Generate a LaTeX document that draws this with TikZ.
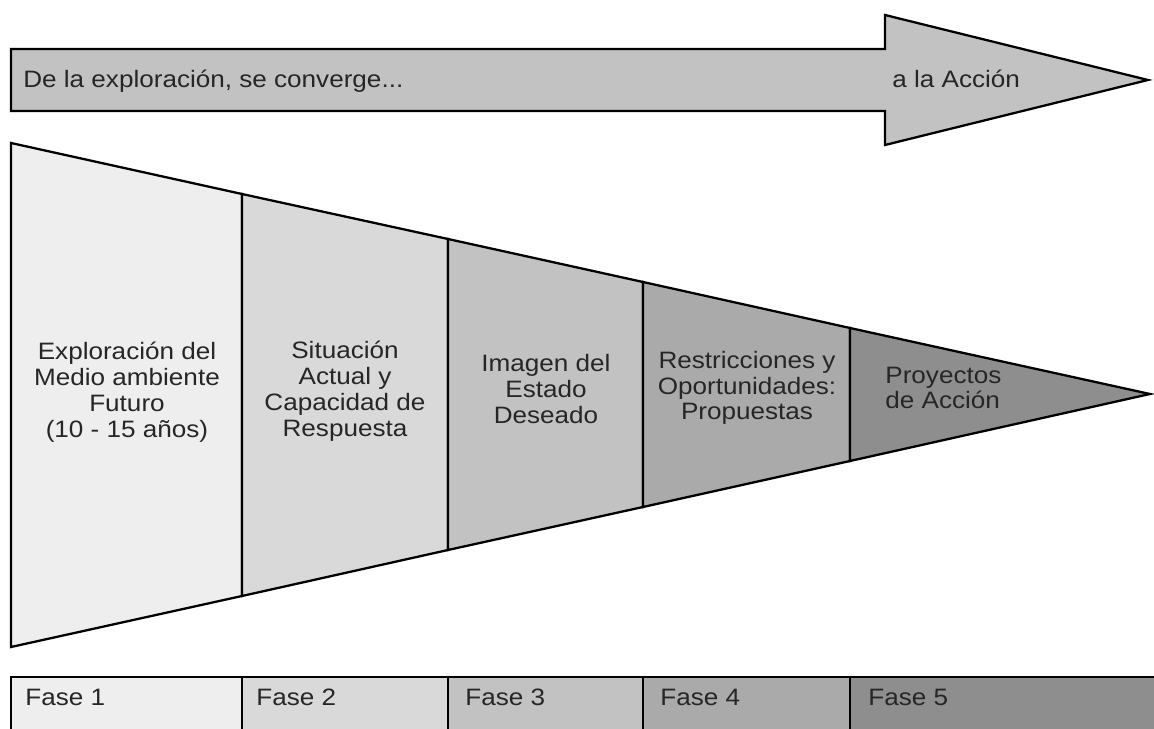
\documentclass[tikz,border=0pt]{standalone}
\usepackage{fontspec}
\setmainfont[FakeStretch=1.1]{Liberation Sans}
\definecolor{c1}{HTML}{EEEEEE}
\definecolor{c2}{HTML}{D9D9D9}
\definecolor{c3}{HTML}{C2C2C2}
\definecolor{c4}{HTML}{AAAAAA}
\definecolor{c5}{HTML}{8E8E8E}
\definecolor{txt}{HTML}{262626}

\begin{document}
\begin{tikzpicture}[
    x=0.02cm, y=-0.02cm,
    font=\fontsize{13.5}{14.7}\selectfont,
    p/.style={
        draw=black, line width=1.3pt, line join=miter
    },
    t/.style={align=center, text=txt, inner sep=0pt},
    f/.style={anchor=base west, text=txt, inner sep=0pt}
]

\useasboundingbox (0,0) rectangle (1154,729);
\clip (0,0) rectangle (1154,729);

% arrow
\draw [p, fill=c3] (11,49) -- (885,49) -- (885,15) -- (1148,80)
    -- (885,145) -- (885,111) -- (11,111) -- cycle;
\node [f] (from) at (23,88) {De la exploración, se converge...};
\node [f] (to) at (892,88) {a la Acción};

% funnel
\draw [p, fill=c1] (11,143) -- (242,194) -- (242,596) -- (11,647) -- cycle;
\draw [p, fill=c2] (242,194) -- (448,239) -- (448,550) -- (242,596) -- cycle;
\draw [p, fill=c3] (448,239) -- (643,282) -- (643,507) -- (448,550) -- cycle;
\draw [p, fill=c4] (643,282) -- (850,328) -- (850,461) -- (643,507) -- cycle;
\draw [p, fill=c5] (850,328) -- (1150,394) -- (850,461) -- cycle;

\node [t] (s1) at (127,392) {Exploración del\\Medio ambiente\\Futuro\\(10 - 15 años)};
\node [t] (s2) at (345,391) {Situación\\Actual y\\Capacidad de\\Respuesta};
\node [t] (s3) at (546,389) {Imagen del\\Estado\\Deseado};
\node [t] (s4) at (747,388) {Restricciones y\\Oportunidades:\\Propuestas};
\node [t, align=left, anchor=west] (s5) at (885,388) {Proyectos\\de Acción};

% phases
\draw [p, fill=c1] (11,677) rectangle (242,745);
\draw [p, fill=c2] (242,677) rectangle (448,745);
\draw [p, fill=c3] (448,677) rectangle (643,745);
\draw [p, fill=c4] (643,677) rectangle (850,745);
\draw [p, fill=c5] (850,677) rectangle (1170,745);

\node [f] (f1) at (25,705) {Fase 1};
\node [f] (f2) at (256,705) {Fase 2};
\node [f] (f3) at (465,705) {Fase 3};
\node [f] (f4) at (660,705) {Fase 4};
\node [f] (f5) at (868,705) {Fase 5};

\end{tikzpicture}
\end{document}
